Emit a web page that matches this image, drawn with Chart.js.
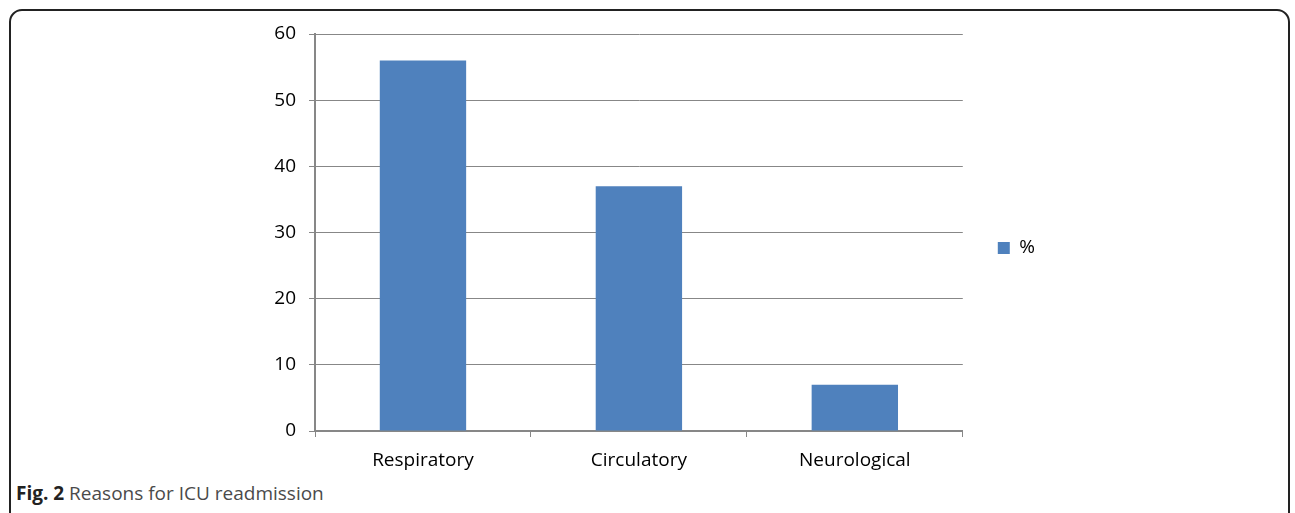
<!DOCTYPE html>
<html>
<head>
<meta charset="utf-8">
<script src="https://cdn.jsdelivr.net/npm/chart.js@4"></script>
<style>
  html, body { margin: 0; padding: 0; background: #fff; overflow: hidden; }
  #wrap { position: relative; width: 1295px; height: 513px; }
  #frame {
    position: absolute; left: 9px; top: 9px; width: 1281px; height: 530px;
    border: 2px solid #222; border-radius: 13px; box-sizing: border-box;
  }
  #chartBox { position: absolute; left: 0; top: 0; width: 1295px; height: 480px; }
  #caption {
    position: absolute; left: 16px; top: 480px;
    font-family: "Open Sans", sans-serif; font-size: 19px; color: #4a4a4a;
  }
  #caption b { color: #222; }
</style>
</head>
<body>
<div id="wrap">
  <div id="frame"></div>
  <div id="chartBox"><canvas id="myChart"></canvas></div>
  <div id="caption"><b>Fig. 2</b> Reasons for ICU readmission</div>
</div>
<script>
var categories = ["Respiratory", "Circulatory", "Neurological"];
var percentValues = [56, 37, 7];
var seriesName = "%";

var barColor = "#4F81BD";
var gridColor = "#878787";

// nudge the legend to where the original puts it
var legendShift = {
    id: "legendShift",
    afterLayout: function(chart) {
        var lg = chart.legend;
        lg.left += 25; lg.right += 25;
        lg.top -= 9; lg.bottom -= 9;
    }
};

function drawChart() {
    var ctx = document.getElementById("myChart").getContext("2d");

    var myBarChart = new Chart(ctx, {
        type: "bar",
        data: {
            labels: categories,
            datasets: [{
                label: seriesName,
                data: percentValues,
                backgroundColor: barColor,
                categoryPercentage: 1,
                barPercentage: 0.4
            }]
        },
        plugins: [legendShift],
        options: {
            responsive: true,
            maintainAspectRatio: false,
            animation: false,
            layout: { padding: { top: 34, right: 275, left: 0, bottom: 0 } },
            plugins: {
                legend: {
                    position: "right",
                    labels: {
                        boxWidth: 12,
                        boxHeight: 12,
                        color: "#000",
                        font: { family: "Open Sans", size: 19 }
                    }
                },
                tooltip: { enabled: false }
            },
            scales: {
                x: {
                    afterFit: function(scale) { scale.height = 49; },
                    grid: {
                        display: true,
                        drawOnChartArea: false,
                        offset: true,
                        tickLength: 6,
                        color: gridColor
                    },
                    border: { color: gridColor, width: 2 },
                    ticks: {
                        color: "#000",
                        padding: 12,
                        font: { family: "Open Sans", size: 19 }
                    }
                },
                y: {
                    min: 0,
                    max: 60,
                    afterFit: function(scale) { scale.width = 315; },
                    grid: { color: gridColor, tickLength: 6 },
                    border: { color: gridColor, width: 2 },
                    ticks: {
                        stepSize: 10,
                        color: "#000",
                        padding: 13,
                        font: { family: "Open Sans", size: 19 }
                    }
                }
            }
        }
    });
}

window.onload = drawChart;
</script>
</body>
</html>
